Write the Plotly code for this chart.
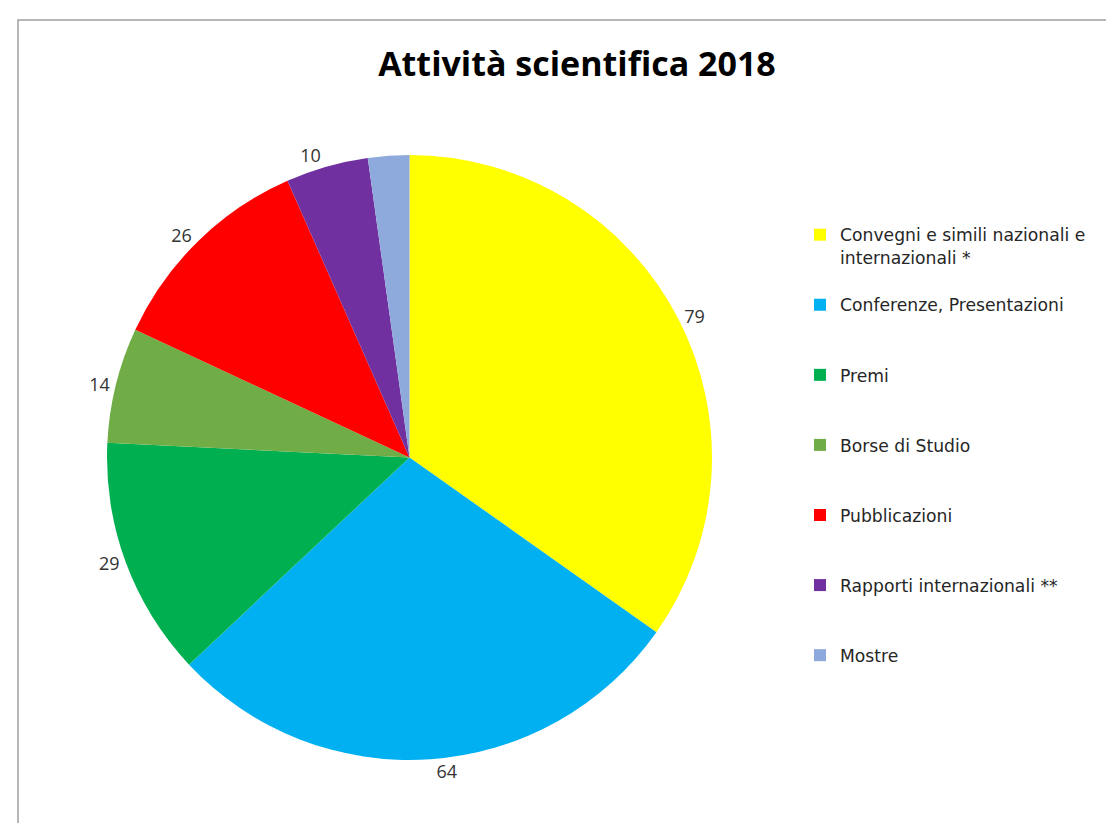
import plotly.graph_objects as go

categories = [
    "Convegni e simili nazionali e<br>internazionali *",
    "Conferenze, Presentazioni",
    "Premi",
    "Borse di Studio",
    "Pubblicazioni",
    "Rapporti internazionali **",
    "Mostre",
]
values = [79, 64, 29, 14, 26, 10, 5]
shown_labels = ["79", "64", "29", "14", "26", "10", ""]
colors = ["#FFFF00", "#00B0F0", "#00B050", "#70AD47", "#FF0000", "#7030A0", "#8EA9DB"]

# pad legend labels to 3 lines so entries are evenly spaced like the reference
legend_labels = []
for c in categories:
    n = c.count("<br>") + 1
    legend_labels.append(c + "<br>&nbsp;" * (3 - n))

fig = go.Figure(
    go.Pie(
        labels=legend_labels,
        values=values,
        text=shown_labels,
        textinfo="text",
        textposition="outside",
        sort=False,
        direction="clockwise",
        rotation=0,
        marker=dict(colors=colors, line=dict(width=0)),
        textfont=dict(size=18, color="#333333", family="Open Sans"),
        hoverinfo="label+value",
        domain=dict(x=[99 / 1114, 704 / 1114], y=[1 - 752 / 823, 1 - 147 / 823]),
    )
)

fig.update_layout(
    width=1114,
    height=823,
    margin=dict(l=0, r=0, t=0, b=0),
    paper_bgcolor="white",
    plot_bgcolor="white",
    title=dict(
        text="<b>Attività scientifica 2018</b>",
        x=569 / 1114,
        xanchor="center",
        y=1 - 56 / 823,
        yanchor="middle",
        font=dict(size=34, family="Open Sans", color="black"),
    ),
    legend=dict(
        x=792 / 1114,
        y=1 - 209 / 823,
        xanchor="left",
        yanchor="top",
        valign="top",
        font=dict(size=17.2, family="DejaVu Sans", color="#262626"),
        bgcolor="rgba(0,0,0,0)",
    ),
    shapes=[
        dict(
            type="rect",
            xref="paper",
            yref="paper",
            x0=10 / 1114,
            x1=1.05,
            y0=-0.05,
            y1=1 - 12 / 823,
            line=dict(color="#A0A0A0", width=1.5),
            fillcolor="rgba(0,0,0,0)",
            layer="below",
        )
    ],
)

fig.write_html("out.html")
